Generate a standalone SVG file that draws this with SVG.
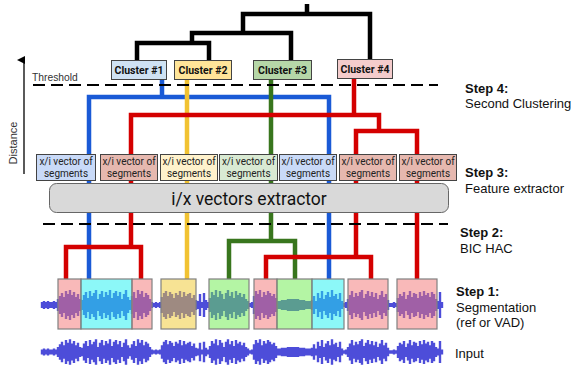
<svg xmlns="http://www.w3.org/2000/svg" xmlns:xlink="http://www.w3.org/1999/xlink" width="574" height="367" viewBox="0 0 574 367">
<style>
.ln{fill:none;stroke-width:4.5;stroke-linejoin:miter;stroke-linecap:butt}
.bk{stroke:#000}
.bl{stroke:#1a5ad6}
.ye{stroke:#f1c232}
.gr{stroke:#38761d}
.rd{stroke:#d40000}
.dash{fill:none;stroke:#000;stroke-width:2;stroke-dasharray:12 6}
.cl{stroke:#434343;stroke-width:1}
.ct{font-family:Roboto,"Liberation Sans",sans-serif;font-weight:bold;font-size:10.5px;fill:#111;text-anchor:middle}
.vb{stroke:#434343;stroke-width:1}
.vt{font-family:Roboto,"Liberation Sans",sans-serif;font-size:10px;fill:#222;text-anchor:middle}
.st{font-family:"Liberation Sans",Arial,sans-serif;font-size:13px;fill:#111}
.sb{font-weight:bold}
.sm{font-family:"Liberation Sans",Arial,sans-serif;font-size:10.3px;fill:#333}
.seg{stroke:#808080;stroke-width:1.2;fill-opacity:0.5}
.wv{fill:none;stroke:#4d4dd9;stroke-width:2.4}
</style>
<defs>
<marker id="ah" markerWidth="8" markerHeight="8" refX="4" refY="7" orient="auto-start-reverse" markerUnits="userSpaceOnUse"><path d="M0,8 L4,0 L8,8 Z" fill="#000"/></marker>
<path id="wave" class="wv" d="M42 0H442M42-3V3M44-4V4M46-3V3M48-4V4M50-3V3M52-3V3M54-4V4M56-3V3M58-6V6M60-9V9M62-12V12M64-8V8M66-14V14M68-11V11M70-15V15M72-10V10M74-13V13M76-8V8M78-11V11M80-6V6M82-5V5M84-10V10M86-13V13M88-7V7M90-14V14M92-9V9M94-12V12M96-15V15M98-6V6M100-11V11M102-14V14M104-8V8M106-13V13M108-10V10M110-15V15M112-7V7M114-12V12M116-14V14M118-9V9M120-13V13M122-6V6M124-11V11M126-15V15M128-8V8M130-5V5M132-9V9M134-13V13M136-7V7M138-15V15M140-11V11M142-14V14M144-8V8M146-12V12M148-10V10M150-6V6M152-3V3M154-2V2M156-3V3M158-2V2M160-3V3M162-8V8M164-12V12M166-14V14M168-9V9M170-13V13M172-11V11M174-7V7M176-12V12M178-10V10M180-14V14M182-8V8M184-13V13M186-9V9M188-11V11M190-12V12M192-7V7M194-10V10M196-5V5M198-4V4M200-11V11M202-3V3M204-12V12M206-5V5M208-3V3M210-7V7M212-13V13M214-10V10M216-15V15M218-8V8M220-14V14M222-11V11M224-6V6M226-12V12M228-15V15M230-9V9M232-13V13M234-7V7M236-14V14M238-10V10M240-12V12M242-8V8M244-11V11M246-6V6M248-4V4M250-2V2M252-3V3M254-9V9M256-14V14M258-11V11M260-15V15M262-8V8M264-13V13M266-10V10M268-14V14M270-12V12M272-9V9M274-11V11M276-7V7M278-4V4M280-4V4M282-5V5M284-5V5M286-5V5M288-6V6M290-6V6M292-6V6M294-6V6M296-6V6M298-6V6M300-5V5M302-5V5M304-5V5M306-4V4M308-4V4M310-4V4M312-5V5M314-9V9M316-4V4M318-12V12M320-7V7M322-14V14M324-6V6M326-10V10M328-13V13M330-8V8M332-15V15M334-9V9M336-11V11M338-6V6M340-12V12M342-4V4M344-2V2M346-3V3M348-6V6M350-10V10M352-14V14M354-8V8M356-12V12M358-9V9M360-13V13M362-15V15M364-7V7M366-11V11M368-14V14M370-9V9M372-13V13M374-8V8M376-12V12M378-6V6M380-10V10M382-14V14M384-8V8M386-11V11M388-5V5M390-2V2M392-2V2M394-3V3M396-2V2M398-7V7M400-11V11M402-9V9M404-13V13M406-6V6M408-10V10M410-14V14M412-8V8M414-12V12M416-11V11M418-7V7M420-13V13M422-9V9M424-14V14M426-10V10M428-12V12M430-8V8M432-13V13M434-11V11M436-6V6M438-4V4M440-13V13M442-3V3"/>
</defs>
<rect width="574" height="367" fill="#fff"/>

<g id="connectors">
<path class="ln bk" d="M137,60V43H209V60M192,43V33H291V60M243,33V14H370V59M307,14V4"/>
<path class="ln bl" d="M162,79V97M89,279V97H329V279"/>
<path class="ln ye" d="M187,79V279"/>
<path class="ln gr" d="M271,80V241M229,279V241H295V279"/>
<path class="ln rd" d="M354,78V115M131,247V115H379V131M356,257V131H417V279M66,279V247H141V279M266,279V257H371V279"/>
</g>

<g id="axis">
<line x1="24" y1="174" x2="24" y2="60" stroke="#000" stroke-width="1.3" marker-end="url(#ah)"/>
<text class="sm" font-size="11" transform="translate(17,143) rotate(-90)" text-anchor="middle" style="font-size:11px">Distance</text>
<text class="sm" x="32" y="81">Threshold</text>
</g>

<g id="thresholds">
<path class="dash" d="M33,85H438"/>
<path class="dash" d="M43,224H448"/>
</g>

<g id="vectors">
<g id="vec1"><rect class="vb" x="36.5" y="154.5" width="59" height="26" fill="#c9daf8"/><text class="vt" x="66" y="165">x/i vector of</text><text class="vt" x="66" y="176.5">segments</text></g>
<g id="vec2"><rect class="vb" x="100.5" y="154.5" width="57" height="26" fill="#e6b8af"/><text class="vt" x="129" y="165">x/i vector of</text><text class="vt" x="129" y="176.5">segments</text></g>
<g id="vec3"><rect class="vb" x="160.5" y="154.5" width="57" height="26" fill="#fff2cc"/><text class="vt" x="189" y="165">x/i vector of</text><text class="vt" x="189" y="176.5">segments</text></g>
<g id="vec4"><rect class="vb" x="219.5" y="154.5" width="58" height="26" fill="#d9ead3"/><text class="vt" x="248.5" y="165">x/i vector of</text><text class="vt" x="248.5" y="176.5">segments</text></g>
<g id="vec5"><rect class="vb" x="279.5" y="154.5" width="57" height="26" fill="#c9daf8"/><text class="vt" x="308" y="165">x/i vector of</text><text class="vt" x="308" y="176.5">segments</text></g>
<g id="vec6"><rect class="vb" x="339.5" y="154.5" width="57" height="26" fill="#e6b8af"/><text class="vt" x="368" y="165">x/i vector of</text><text class="vt" x="368" y="176.5">segments</text></g>
<g id="vec7"><rect class="vb" x="399.5" y="154.5" width="57" height="26" fill="#e6b8af"/><text class="vt" x="428" y="165">x/i vector of</text><text class="vt" x="428" y="176.5">segments</text></g>
</g>

<g id="extractor">
<rect x="49.5" y="183.5" width="399" height="29" rx="7" fill="#d9d9d9" stroke="#666" stroke-width="1"/>
<text x="249" y="205" font-family="Roboto,'Liberation Sans',sans-serif" font-size="17.5" fill="#111" text-anchor="middle">i/x vectors extractor</text>
</g>

<g id="cluster1"><rect class="cl" x="111.5" y="60.5" width="55" height="19" fill="#cfe2f3"/><text class="ct" x="139" y="74">Cluster #1</text></g>
<g id="cluster2"><rect class="cl" x="174.5" y="60.5" width="57" height="19" fill="#ffe599"/><text class="ct" x="203" y="74">Cluster #2</text></g>
<g id="cluster3"><rect class="cl" x="253.5" y="60.5" width="58" height="19" fill="#b6d7a8"/><text class="ct" x="282.5" y="74">Cluster #3</text></g>
<g id="cluster4"><rect class="cl" x="337.5" y="59.5" width="55" height="19" fill="#f4cccc"/><text class="ct" x="365" y="73">Cluster #4</text></g>

<g id="segmentation">
<use xlink:href="#wave" href="#wave" transform="translate(0,305)"/>
<rect class="seg" x="58" y="279" width="23" height="50" fill="#f37373"/>
<rect class="seg" x="81" y="279" width="51" height="50" fill="#19f1f1"/>
<rect class="seg" x="132" y="279" width="20" height="50" fill="#f37373"/>
<rect class="seg" x="161" y="279" width="35" height="50" fill="#efc729"/>
<rect class="seg" x="209" y="279" width="40" height="50" fill="#69eb49"/>
<rect class="seg" x="254" y="279" width="23" height="50" fill="#f37373"/>
<rect class="seg" x="277" y="279" width="35" height="50" fill="#69eb49"/>
<rect class="seg" x="312" y="279" width="32" height="50" fill="#19f1f1"/>
<rect class="seg" x="348" y="279" width="40" height="50" fill="#f37373"/>
<rect class="seg" x="397" y="279" width="40" height="50" fill="#f37373"/>
</g>

<g id="input">
<use xlink:href="#wave" href="#wave" transform="translate(0,352) scale(1,0.85)"/>
</g>

<g id="steps">
<text class="st sb" x="465" y="93">Step 4:</text>
<text class="st" x="465" y="108">Second Clustering</text>
<text class="st sb" x="465" y="177">Step 3:</text>
<text class="st" x="465" y="193">Feature extractor</text>
<text class="st sb" x="460" y="237">Step 2:</text>
<text class="st" x="460" y="253">BIC HAC</text>
<text class="st sb" x="456" y="296">Step 1:</text>
<text class="st" x="456" y="312">Segmentation</text>
<text class="st" x="456" y="327">(ref or VAD)</text>
<text class="st" x="455" y="358">Input</text>
</g>
</svg>
